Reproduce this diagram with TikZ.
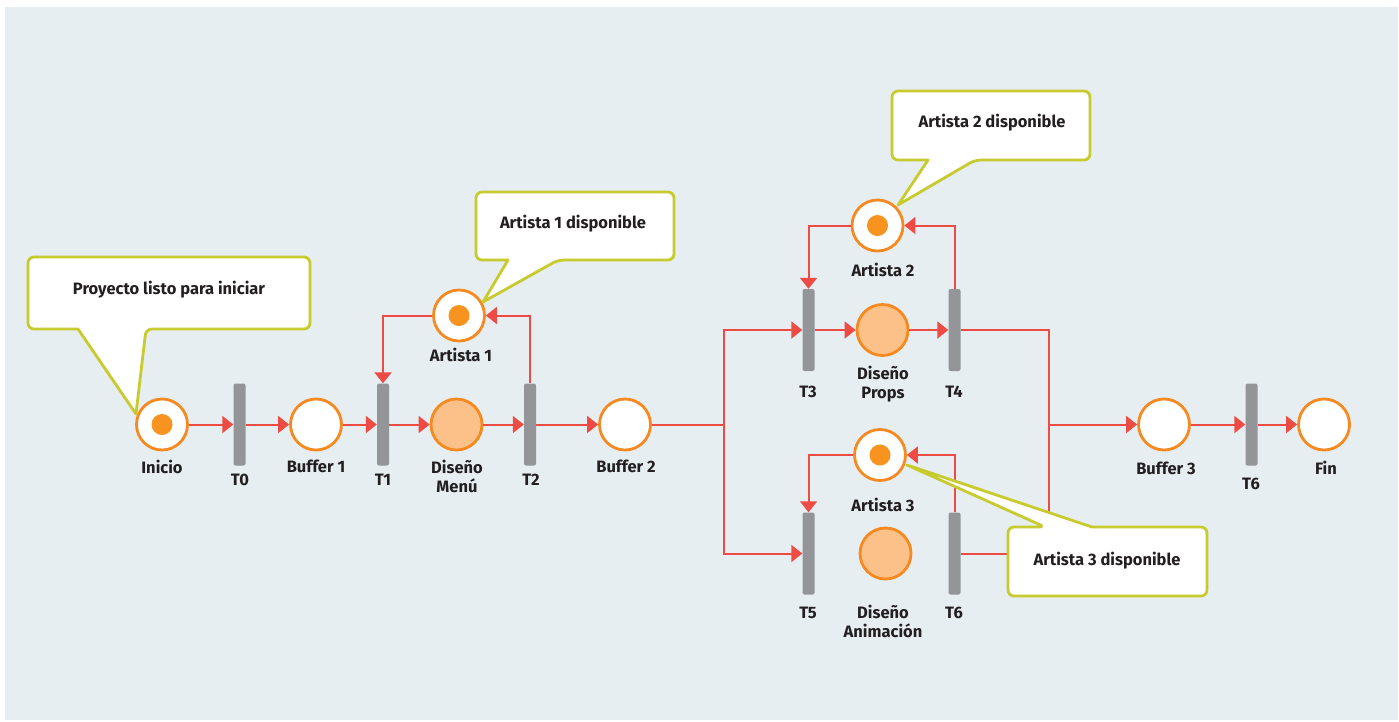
\documentclass[tikz,border=0pt]{standalone}
\usepackage{fontspec}
\setmainfont{Fira Sans}
\usetikzlibrary{arrows.meta}
\definecolor{bgc}{HTML}{E6EEF2}
\definecolor{orangec}{HTML}{F6891F}
\definecolor{tokc}{HTML}{F7931E}
\definecolor{lightc}{HTML}{FCC189}
\definecolor{redc}{HTML}{EF4B45}
\definecolor{grayc}{HTML}{939598}
\definecolor{yelc}{HTML}{C8CB2D}
\definecolor{textc}{HTML}{231F20}
\begin{document}
\begin{tikzpicture}[x=1pt,y=-1pt,
  place/.style={circle,draw=orangec,line width=2.8pt,fill=white,minimum size=51pt,inner sep=0pt},
  busy/.style={place,fill=lightc},
  token/.style={place,path picture={\fill[tokc] (path picture bounding box.center) circle[radius=10.5pt];}},
  trans/.style={rectangle,fill=grayc,rounded corners=2pt,minimum width=12pt,minimum height=82pt,inner sep=0pt},
  lbl/.style={font=\fontsize{16.5}{20}\selectfont\bfseries,text=textc,inner sep=0pt,text height=11.4pt,text depth=0pt},
  arc/.style={draw=redc,line width=2pt},
  arr/.style={arc,-{Triangle[length=11pt,width=17pt]}},
  callout/.style={draw=yelc,line width=2.8pt,fill=white,line join=round},
]
\path[use as bounding box] (0,0) rectangle (1399,721);
\fill[bgc] (5,7) rectangle (1398,720);

% places and transitions
\node[token] (inicio) at (162,424.5) {};
\node[trans] (t0) at (239.5,424.5) {};
\node[place] (b1) at (316,424.5) {};
\node[trans] (t1) at (383,424.5) {};
\node[busy] (menu) at (456.5,424.5) {};
\node[trans] (t2) at (530,424.5) {};
\node[place] (b2) at (625,424.5) {};
\node[token] (a1) at (459,315.5) {};

\node[token] (a2) at (877.5,225.5) {};
\node[trans] (t3) at (808.5,330) {};
\node[busy] (props) at (882.5,330) {};
\node[trans] (t4) at (954.5,330) {};

\node[token] (a3) at (880,455) {};
\node[trans] (t5) at (808.5,553.5) {};
\node[busy] (anim) at (885.5,553.5) {};
\node[trans] (t6b) at (954.5,553.5) {};

\node[place] (b3) at (1164,424.5) {};
\node[trans] (t6) at (1251.5,424.5) {};
\node[place] (fin) at (1324,424.5) {};

\coordinate (split) at (724,424.5);
\coordinate (join) at (1049,424.5);

% connectors
\draw[arr] (inicio) -- (t0);
\draw[arr] (t0) -- (b1);
\draw[arr] (b1) -- (t1);
\draw[arr] (t1) -- (menu);
\draw[arr] (menu) -- (t2);
\draw[arr] (t2) -- (b2);
\draw[arc] (b2) -- (split);
\draw[arr] (split) |- (t3);
\draw[arr] (split) |- (t5);
\draw[arr] (t3) -- (props);
\draw[arr] (props) -- (t4);
\draw[arr] (t4) -| (join) -- (b3);
\draw[arc] (t6b) -| (join);
\draw[arr] (b3) -- (t6);
\draw[arr] (t6) -- (fin);
\draw[arr] (a1) -| (t1);
\draw[arr] (t2) |- (a1);
\draw[arr] (a2) -| (t3);
\draw[arr] (t4) |- (a2);
\draw[arr] (a3) -| (t5);
\draw[arr] (t6b) |- (a3);

% labels
\node[lbl] (l-inicio) at (162,468) {Inicio};
\node[lbl] (l-t0) at (240,480) {T0};
\node[lbl] (l-b1) at (316,467) {Buffer 1};
\node[lbl] (l-t1) at (383,480) {T1};
\node[lbl] (l-menu1) at (457,468) {Diseño};
\node[lbl] (l-menu2) at (457,487) {Menú};
\node[lbl] (l-t2) at (531,480) {T2};
\node[lbl] (l-b2) at (626,467) {Buffer 2};
\node[lbl] (l-a1) at (461,356) {Artista 1};
\node[lbl] (l-a2) at (883,270.5) {Artista 2};
\node[lbl] (l-t3) at (808,392) {T3};
\node[lbl] (l-t4) at (954,392) {T4};
\node[lbl] (l-props1) at (883,373.5) {Diseño};
\node[lbl] (l-props2) at (883,393) {Props};
\node[lbl] (l-a3) at (883,506) {Artista 3};
\node[lbl] (l-t5) at (808,613) {T5};
\node[lbl] (l-t6b) at (954,613) {T6};
\node[lbl] (l-anim1) at (883,613) {Diseño};
\node[lbl] (l-anim2) at (883,631.5) {Animación};
\node[lbl] (l-b3) at (1166,468.5) {Buffer 3};
\node[lbl] (l-t6) at (1251,484) {T6};
\node[lbl] (l-fin) at (1326,468.5) {Fin};

% callouts
\draw[callout] (169,257) [rounded corners=6pt] -- (310,257) -- (310,329) -- (146,329) [sharp corners] -- (136,414) -- (78,329) [rounded corners=6pt] -- (28,329) -- (28,257) -- cycle;
\node[lbl] (c-start) at (169,289) {Proyecto listo para iniciar};

\draw[callout] (575,192) [rounded corners=6pt] -- (674,192) -- (674,260) -- (558,260) [sharp corners] -- (483,302) -- (508,260) [rounded corners=6pt] -- (476,260) -- (476,192) -- cycle;
\node[lbl] (c-a1) at (573,223) {Artista 1 disponible};

\draw[callout] (991,91) [rounded corners=6pt] -- (1090,91) -- (1090,160) -- (975,160) [sharp corners] -- (898,205) -- (928,160) [rounded corners=6pt] -- (892,160) -- (892,91) -- cycle;
\node[lbl] (c-a2) at (992,122) {Artista 2 disponible};

\draw[callout] (1108,596) [rounded corners=6pt] -- (1008,596) -- (1008,527) -- (1045,527) [sharp corners] -- (907,465) -- (1092,527) [rounded corners=6pt] -- (1207,527) -- (1207,596) -- cycle;
\node[lbl] (c-a3) at (1107,560) {Artista 3 disponible};
\end{tikzpicture}
\end{document}
